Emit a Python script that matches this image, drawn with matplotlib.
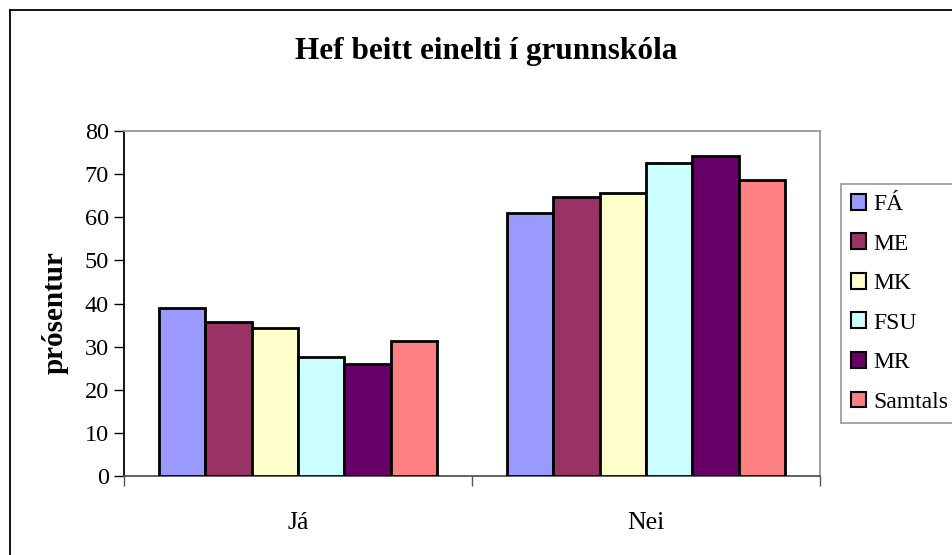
import matplotlib
matplotlib.use("Agg")
import matplotlib.pyplot as plt
import numpy as np

plt.rcParams['font.family'] = ['Liberation Serif', 'DejaVu Serif']

title = "Hef beitt einelti í grunnskóla"
ylabel = "prósentur"
categories = ["Já", "Nei"]
series = ["FÁ", "ME", "MK", "FSU", "MR", "Samtals"]
values_ja = [39.0, 35.6, 34.4, 27.5, 25.9, 31.3]
values_nei = [60.9, 64.6, 65.6, 72.5, 74.3, 68.7]
colors = ["#9999FF", "#993366", "#FFFFCC", "#CCFFFF", "#660066", "#FF8080"]

W, H = 953, 555
fig = plt.figure(figsize=(W / 100, H / 100), dpi=100)
fig.patch.set_facecolor("white")

# outer chart border (left & top visible, extends past right/bottom)
fig.add_artist(plt.Line2D([10 / W, 10 / W], [0, 1 - 10 / H], transform=fig.transFigure,
                          color="black", lw=1.3))
fig.add_artist(plt.Line2D([10 / W, 1], [1 - 10 / H, 1 - 10 / H], transform=fig.transFigure,
                          color="black", lw=1.3))

left, right, top, bottom = 124, 820, 131, 476
ax = fig.add_axes([left / W, 1 - bottom / H, (right - left) / W, (bottom - top) / H])

n = len(series)
group_w = 0.8
bw = group_w / n
x = np.arange(len(categories))
data = np.array([values_ja, values_nei])
for i, s in enumerate(series):
    ax.bar(x - group_w / 2 + bw * (i + 0.5), data[:, i], width=bw, color=colors[i],
           edgecolor="black", linewidth=2, label=s, zorder=3)

ax.set_xlim(-0.5, len(categories) - 0.5)
ax.set_ylim(0, 80)
ax.set_yticks(np.arange(0, 81, 10))
ax.tick_params(axis='y', direction='out', length=7, width=1, labelsize=17.5, pad=4)
ax.set_xticks(x)
ax.set_xticklabels(categories)
ax.tick_params(axis='x', length=0, labelsize=18.5, pad=26)
# category boundary ticks
ax.set_xticks(np.arange(-0.5, len(categories)), minor=True)
ax.tick_params(axis='x', which='minor', direction='out', length=7, width=1, color="#555555")

ax.spines['left'].set_color("black")
ax.spines['bottom'].set_color("#555555")
ax.spines['top'].set_color("#999999")
ax.spines['right'].set_color("#999999")
for sp in ax.spines.values():
    sp.set_linewidth(1.3)

fig.text(55 / W, 1 - 313 / H, ylabel, ha='center', va='center', rotation=90,
         fontsize=21, fontweight='bold')

fig.text(486 / W, 1 - 52 / H, title, ha='center', va='center', fontsize=22.5, fontweight='bold')

leg = fig.legend(loc='upper left', bbox_to_anchor=(841 / W, 1 - 184 / H), fontsize=17,
                 frameon=True, fancybox=False, edgecolor="#888888", handlelength=0.64,
                 handleheight=0.64, handletextpad=0.3, labelspacing=0.78, borderpad=0.42,
                 borderaxespad=0)
leg.get_frame().set_linewidth(1.3)
for h in leg.legend_handles:
    h.set_linewidth(1.5)

fig.savefig("out.png", dpi=100, facecolor="white")
